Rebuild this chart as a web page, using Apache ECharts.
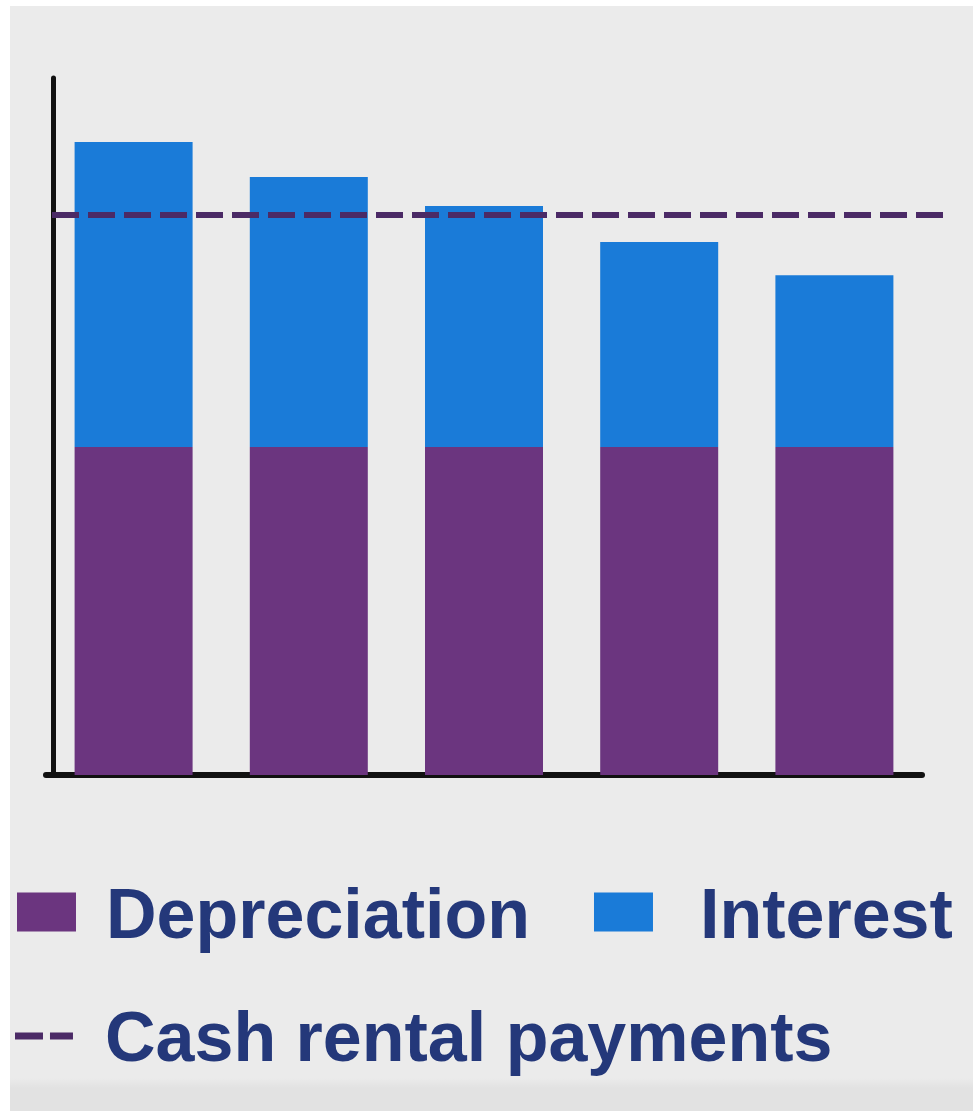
<!DOCTYPE html>
<html>
<head>
<meta charset="utf-8">
<script src="https://cdn.jsdelivr.net/npm/echarts@6/dist/echarts.min.js"></script>
<style>
  html, body { margin: 0; padding: 0; background: #ffffff; }
  #bg {
    position: absolute; left: 10px; top: 6px; width: 963px; height: 1105px;
    background: linear-gradient(to bottom, #ebebeb 0, #ebebeb 1072px, #e2e2e2 1082px, #e2e2e2 100%);
  }
  #chart { position: absolute; left: 0; top: 0; width: 973px; height: 1111px; }
</style>
</head>
<body>
<div id="bg"></div>
<div id="chart"></div>
<script>
// five periods, no labels shown on the axis
const periods = ["1", "2", "3", "4", "5"];
const depreciation = [100, 100, 100, 100, 100];
const interest = [93, 82.3, 73.5, 62.5, 52.4];
const cashRental = 170.7;
const yMax = 212.5;

const textColor = "#24387a";
const fontFamily = "'Liberation Sans', Arial, sans-serif";
const legendText = {
  color: textColor, fontSize: 70, fontWeight: "bold", fontFamily: fontFamily
};

// legend icons carry a tiny point below the shape so the text sits a bit lower
const squareIcon = "path://M0,0h59v39h-59z M0,53h0.01v0.01h-0.01z";
const dashIcon = "path://M0,0h28v7h-28z M35,0h23v7h-23z M0,19h0.01v0.01h-0.01z";

const chart = echarts.init(document.getElementById("chart"), null, { renderer: "canvas" });

chart.setOption({
  animation: false,
  backgroundColor: "transparent",
  grid: [
    { left: 46, top: 78, width: 876, height: 697 },
    { left: 52, top: 78, width: 893, height: 697 }
  ],
  xAxis: [
    {
      type: "category",
      gridIndex: 0,
      data: periods,
      axisLine: { lineStyle: { color: "#111", width: 6 } },
      axisTick: { show: false },
      axisLabel: { show: false }
    },
    { type: "value", gridIndex: 1, min: 0, max: 1, show: false }
  ],
  yAxis: [
    {
      type: "value",
      gridIndex: 0,
      min: 0,
      max: yMax,
      offset: -7,
      axisLine: { show: true, lineStyle: { color: "#111", width: 5 } },
      axisTick: { show: false },
      axisLabel: { show: false },
      splitLine: { show: false }
    },
    { type: "value", gridIndex: 1, min: 0, max: yMax, show: false }
  ],
  legend: [
    {
      data: [
        { name: "Depreciation", icon: squareIcon, textStyle: { padding: [0, 0, 0, 25] } },
        { name: "Interest", icon: squareIcon, textStyle: { padding: [0, 0, 0, 42] } }
      ],
      left: 17,
      top: 884,
      padding: 0,
      itemWidth: 59,
      itemHeight: 53,
      itemGap: 64,
      textStyle: legendText
    },
    {
      data: [{ name: "Cash rental payments", icon: dashIcon }],
      left: 15,
      top: 1007,
      padding: 0,
      itemWidth: 58,
      itemHeight: 19,
      textStyle: Object.assign({ padding: [0, 0, 0, 27] }, legendText)
    }
  ],
  series: [
    {
      name: "Depreciation",
      type: "bar",
      stack: "cost",
      xAxisIndex: 0,
      yAxisIndex: 0,
      barWidth: 118,
      itemStyle: { color: "#6b357f" },
      data: depreciation
    },
    {
      name: "Interest",
      type: "bar",
      stack: "cost",
      xAxisIndex: 0,
      yAxisIndex: 0,
      barWidth: 118,
      itemStyle: { color: "#1a7bd8" },
      data: interest
    },
    {
      name: "Cash rental payments",
      type: "line",
      xAxisIndex: 1,
      yAxisIndex: 1,
      symbol: "none",
      z: 5,
      itemStyle: { color: "#4b2a66" },
      lineStyle: { color: "#4b2a66", width: 6, type: [27, 9] },
      data: [[0, cashRental], [1, cashRental]]
    }
  ]
});
</script>
</body>
</html>
